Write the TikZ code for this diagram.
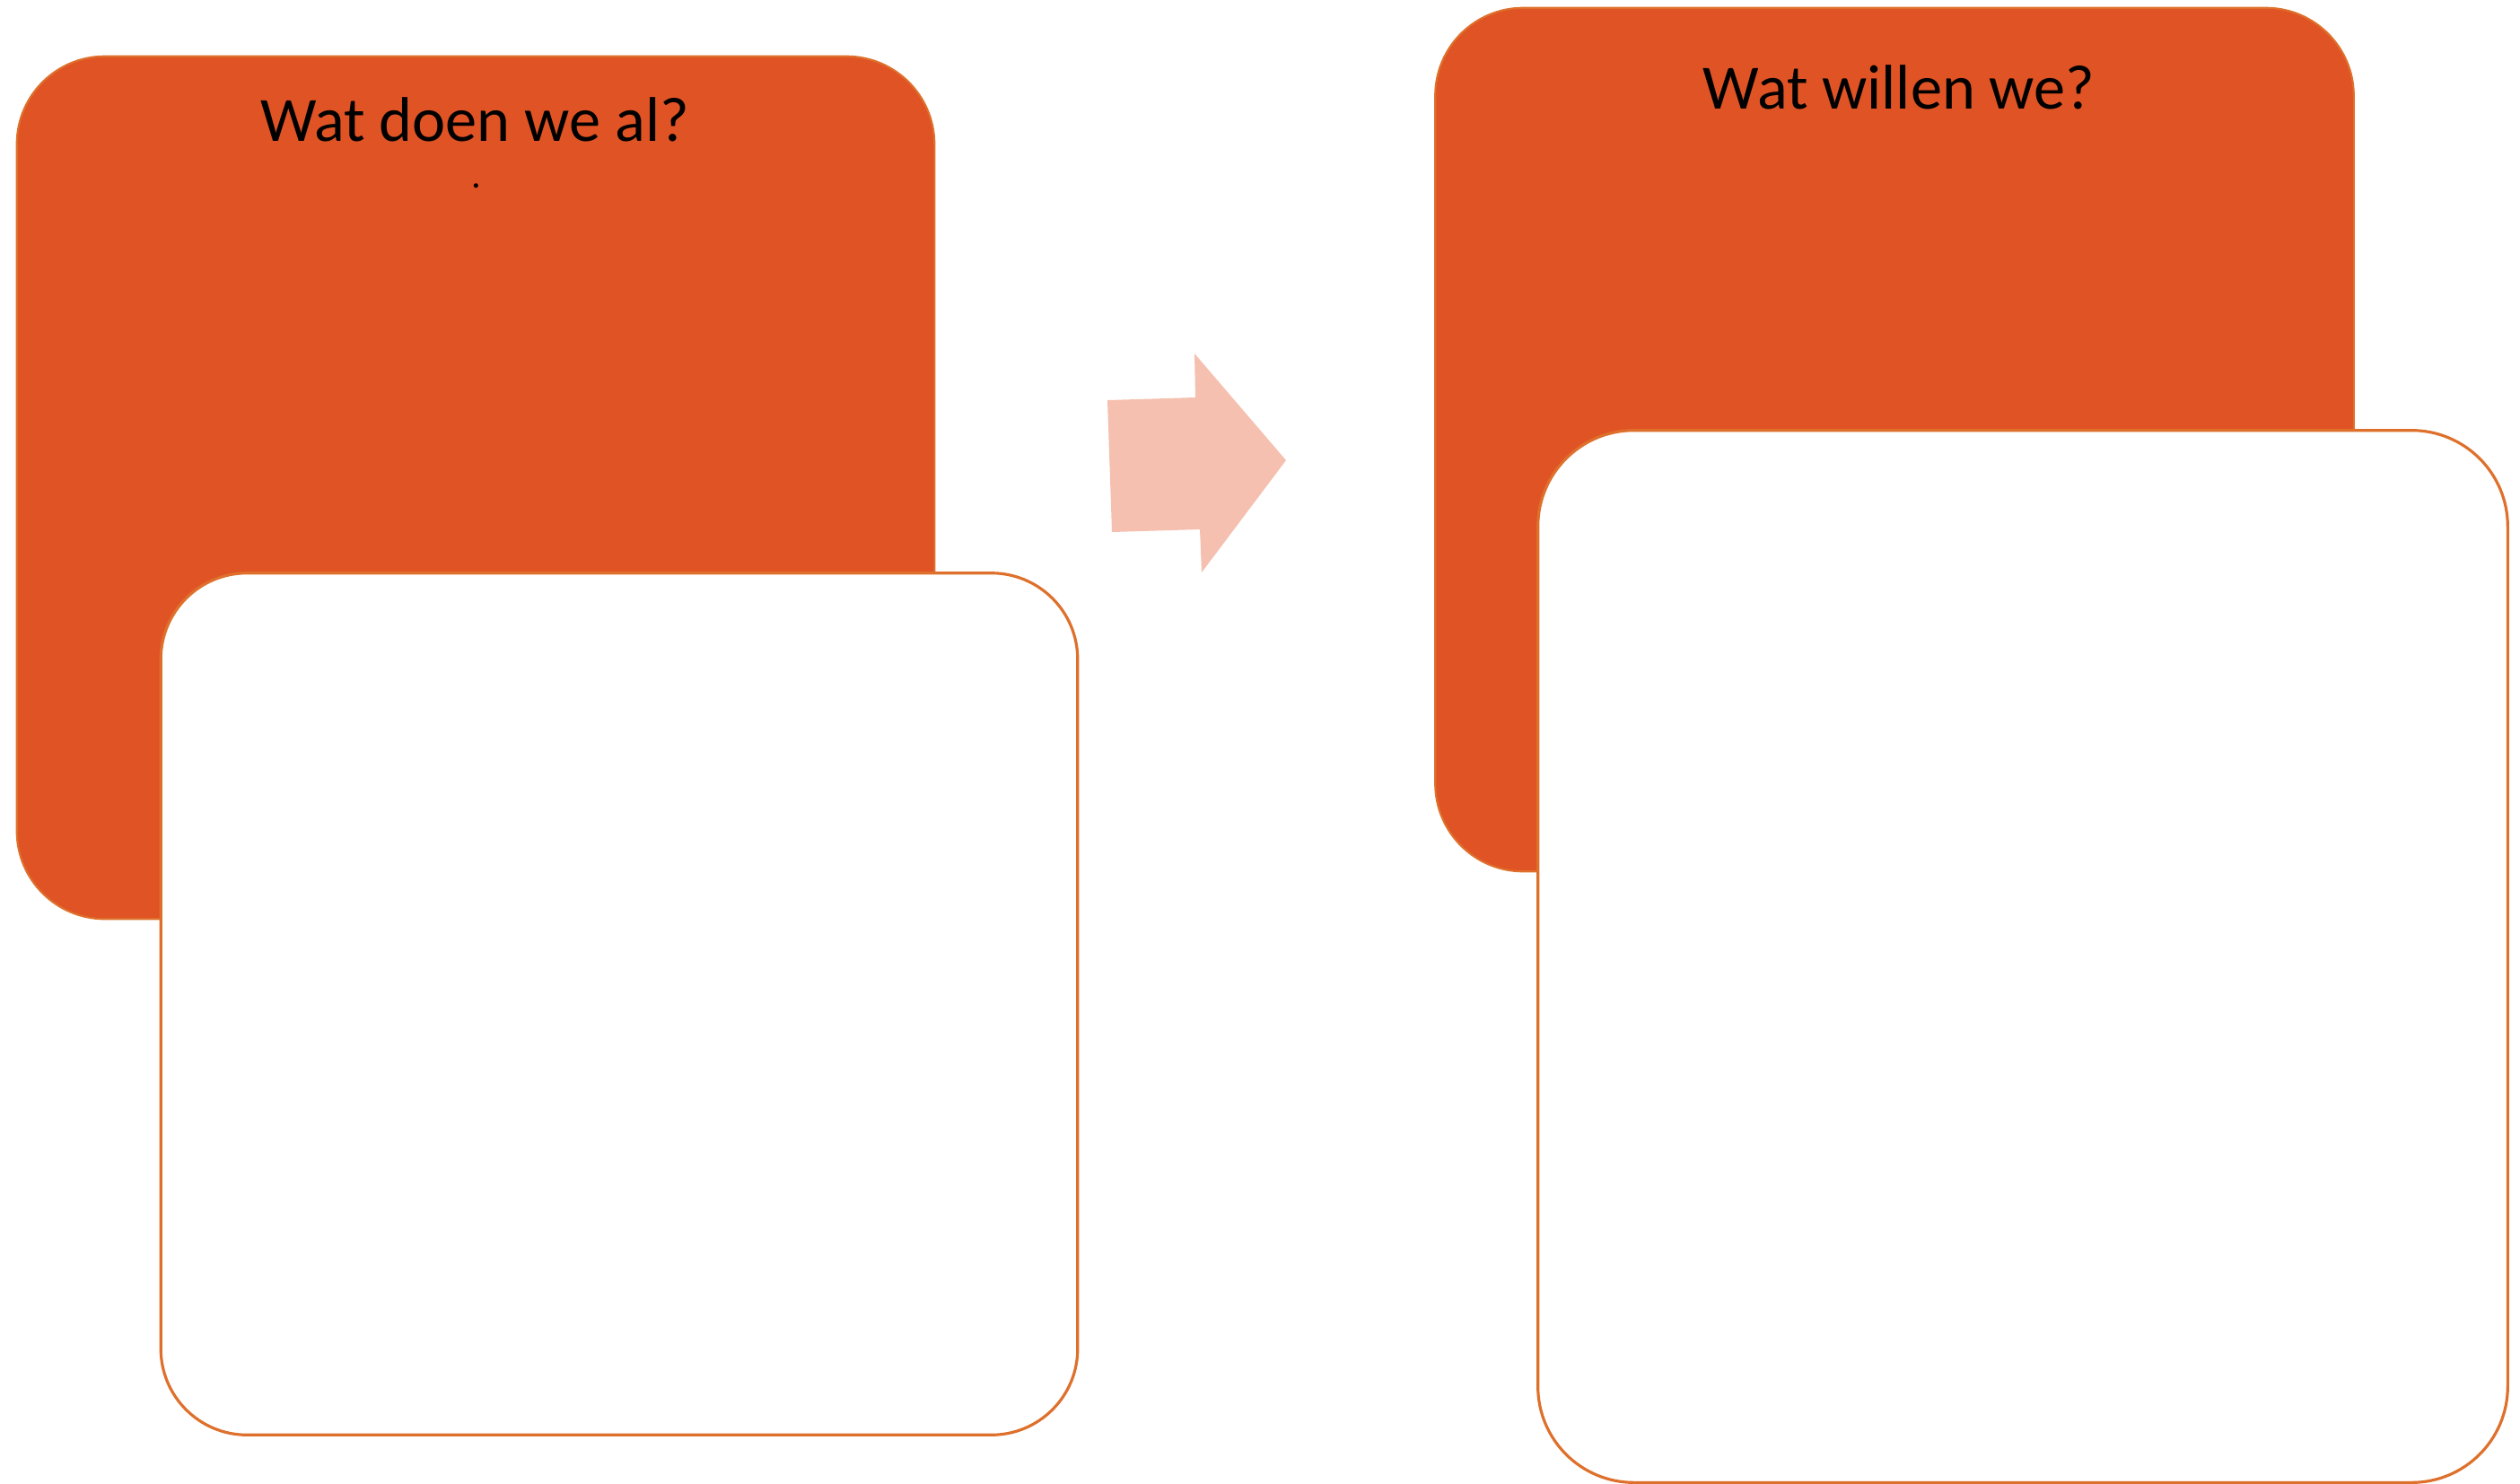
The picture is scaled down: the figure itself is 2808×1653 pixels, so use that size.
\documentclass[tikz,border=0pt]{standalone}
\usepackage{fontspec}
\setmainfont{Carlito}
\definecolor{boxorange}{RGB}{224,83,36}
\definecolor{boxline}{RGB}{222,112,44}
\definecolor{arrowpink}{RGB}{245,192,176}
\tikzset{
  backbox/.style={fill=boxorange, draw=boxline, line width=0.6pt, rounded corners=0.98cm,
    inner sep=0pt, outer sep=0pt},
  frontbox/.style={fill=white, draw=boxline, line width=0.9pt, rounded corners=0.96cm,
    inner sep=0pt, outer sep=0pt},
  title/.style={anchor=base, inner sep=0pt, font=\fontsize{20}{24}\selectfont}
}
\begin{document}
\begin{tikzpicture}[x=0.01cm, y=-0.01cm]

\useasboundingbox (0,0) rectangle (2808,1653);

% left pair
\node[backbox, minimum width=10.22cm, minimum height=9.61cm] (done) at (530,543.5) {};
\node[title] (doneT) at (529,157) {Wat doen we al?};
\node[anchor=base, inner sep=0pt, font=\fontsize{12}{14}\selectfont] (doneDot) at (531,209) {.};
\node[frontbox, minimum width=10.21cm, minimum height=9.60cm] (doneIn) at (690,1119) {};

% arrow in between
\fill[arrowpink] (1234,446) -- (1332,443) -- (1331,394) -- (1433,513)
  -- (1339,638) -- (1337,590) -- (1239,593) -- cycle;

% right pair
\node[backbox, minimum width=10.23cm, minimum height=9.62cm] (want) at (2111,490) {};
\node[title] (wantT) at (2116,121) {Wat willen we?};
\node[frontbox, rounded corners=1.07cm, minimum width=10.80cm, minimum height=11.72cm] (wantIn) at (2254,1066) {};

\end{tikzpicture}
\end{document}
